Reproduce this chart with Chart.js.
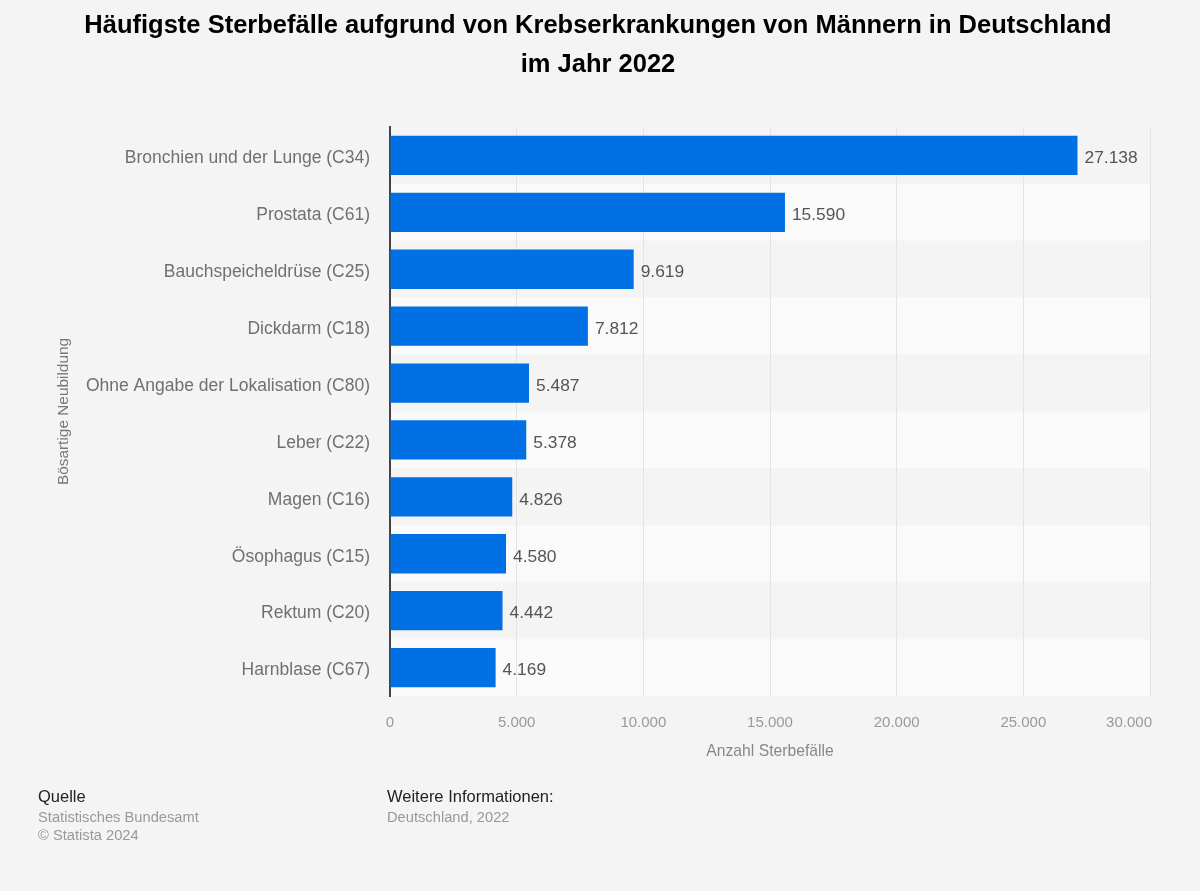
<!DOCTYPE html>
<html lang="de"><head><meta charset="utf-8">
<script src="https://cdn.jsdelivr.net/npm/chart.js@4"></script>
<style>
html,body{margin:0;padding:0;background:#f4f4f4;width:1200px;height:891px;overflow:hidden;font-family:"Liberation Sans",Arial,sans-serif}
#c{position:absolute;left:0;top:0;filter:blur(.4px)}
.t{position:absolute;white-space:nowrap;filter:blur(.4px)}
#title{left:0;width:1196px;top:5px;text-align:center;font-weight:700;font-size:25.5px;line-height:39px;color:#000}
.h{font-size:16.5px;color:#222}
.g{font-size:14.7px;color:#999}
</style></head><body>
<canvas id="c" width="1200" height="891" style="width:1200px;height:891px"></canvas>
<div class="t" id="title">Häufigste Sterbefälle aufgrund von Krebserkrankungen von Männern in Deutschland<br>im Jahr 2022</div>
<div class="t h" style="left:38px;top:787px">Quelle</div>
<div class="t g" style="left:38px;top:809px">Statistisches Bundesamt</div>
<div class="t g" style="left:38px;top:827px">© Statista 2024</div>
<div class="t h" style="left:387px;top:787px">Weitere Informationen:</div>
<div class="t g" style="left:387px;top:809px">Deutschland, 2022</div>
<script>
const categories=["Bronchien und der Lunge (C34)","Prostata (C61)","Bauchspeicheldrüse (C25)","Dickdarm (C18)","Ohne Angabe der Lokalisation (C80)","Leber (C22)","Magen (C16)","Ösophagus (C15)","Rektum (C20)","Harnblase (C67)"];
const deaths=[27138,15590,9619,7812,5487,5378,4826,4580,4442,4169];
const axisMax=30000, axisStep=5000;
const de=v=>String(v).replace(/\B(?=(\d{3})+$)/g,".");
const FONT='"Liberation Sans",Arial,sans-serif';
const TICK_SIZE=15, TICK_COLOR='#999';
const stripes={id:'stripes',beforeDraw(ch){const {ctx,chartArea:a,scales:{y}}=ch;ctx.save();
  categories.forEach((c,i)=>{const t=y.getPixelForValue(i-.5),b=y.getPixelForValue(i+.5);
    ctx.fillStyle=i%2?'#fafafa':'#f4f4f4';ctx.fillRect(a.left,t,a.right-a.left,b-t);});ctx.restore();}};
const values={id:'values',afterDatasetsDraw(ch){const {ctx,scales:{x}}=ch;ctx.save();ctx.font='17.4px '+FONT;ctx.fillStyle='#555';ctx.textBaseline='middle';
  ch.getDatasetMeta(0).data.forEach((e,i)=>ctx.fillText(de(deaths[i]),e.x+7,e.y+3));
  // the last axis label sits flush with the plot's right edge in the original
  ctx.font=TICK_SIZE+'px '+FONT;ctx.fillStyle=TICK_COLOR;ctx.textAlign='right';
  ctx.fillText(de(axisMax),x.getPixelForValue(axisMax)+2,x.bottom-39);
  ctx.restore();}};
new Chart(document.getElementById('c'),{type:'bar',
 data:{labels:categories,datasets:[{data:deaths,backgroundColor:'#0070e4',categoryPercentage:1,barPercentage:.69}]},
 plugins:[stripes,values],
 options:{indexAxis:'y',responsive:false,animation:false,devicePixelRatio:1,
  layout:{padding:{left:55,top:127,right:50,bottom:129}},
  plugins:{legend:{display:false},tooltip:{enabled:false},title:{display:false}},
  scales:{
   x:{min:0,max:axisMax,position:'bottom',
      afterFit(s){s.height=66},
      ticks:{stepSize:axisStep,color:c=>c.tick&&c.tick.value===axisMax?'rgba(0,0,0,0)':TICK_COLOR,font:{size:TICK_SIZE,family:FONT},padding:18,maxRotation:0,callback:v=>de(v)},
      grid:{color:'#e3e3e3',lineWidth:1,drawTicks:false},border:{display:false},
      title:{display:true,text:'Anzahl Sterbefälle',color:'#888',font:{size:15.7,family:FONT},padding:{top:10,bottom:1}}},
   y:{afterFit(s){s.width=335},
      ticks:{color:'#707070',font:{size:17.5,family:FONT},padding:20,autoSkip:false,labelOffset:3},
      grid:{display:false,drawTicks:false},border:{display:true,color:'#444',width:2},
      title:{display:true,text:'Bösartige Neubildung',color:'#777',font:{size:15.4,family:FONT},padding:{top:0,bottom:0}}}
  }}});
</script></body></html>
